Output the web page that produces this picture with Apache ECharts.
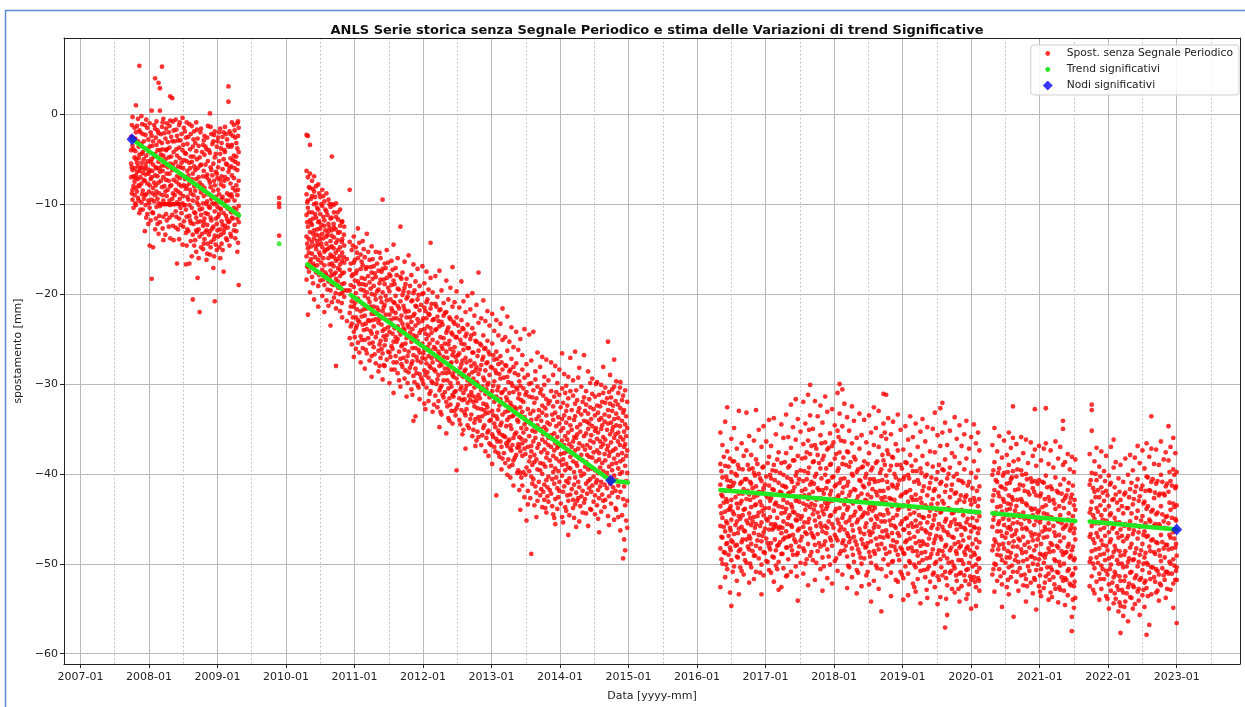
<!DOCTYPE html>
<html>
<head>
<meta charset="utf-8">
<script src="https://cdn.jsdelivr.net/npm/echarts@6/dist/echarts.min.js"></script>
<style>
  html, body { margin: 0; padding: 0; background: #fff; }
  #chart { width: 1245px; height: 707px; }
</style>
</head>
<body>
<div id="chart"></div>
<script>
// ---- Texts and ticks ----
const chartTitle = 'ANLS Serie storica senza Segnale Periodico e stima delle Variazioni di trend Significative';
const seriesNames = ['Spost. senza Segnale Periodico', 'Trend significativi', 'Nodi significativi'];
const xAxisName = 'Data [yyyy-mm]';
const yAxisName = 'spostamento [mm]';
const yearTicks = [2007, 2008, 2009, 2010, 2011, 2012, 2013, 2014, 2015, 2016, 2017, 2018, 2019, 2020, 2021, 2022, 2023];
const midYearTicks = [2007.5, 2008.5, 2009.5, 2010.5, 2011.5, 2012.5, 2013.5, 2014.5, 2015.5, 2016.5, 2017.5, 2018.5, 2019.5, 2020.5, 2021.5, 2022.5, 2023.5];
const yTicks = [0, -10, -20, -30, -40, -50, -60];
const xRange = [2006.76, 2023.924];   // decimal years
const yRange = [-61.15, 8.49];        // mm

// ---- Displacement measurements, grouped by acquisition date: [decimal year, [mm, ...]] ----
const displacement2007_2009 = [
  [2007.74, [-2.5, -4.0, -5.5, -7.0]],
  [2007.75, [-1.2, -5.9, -8.8]],
  [2007.76, [-0.3, -3.5, -6.2, -8.4, -9.5]],
  [2007.775, [-3.9, -6.9, -8.0, -10.4]],
  [2007.79, [-1.5, -4.8, -6.0, -7.5, -9.0]],
  [2007.80, [-2.7, -4.1, -7.1, -9.9]],
  [2007.81, [1.0, -2.0, -5.0, -6.8, -8.2, -10.1]],
  [2007.825, [-1.3, -5.4, -6.4, -8.6]],
  [2007.84, [-0.5, -3.0, -5.8, -7.2, -9.3]],
  [2007.85, [-3.6, -4.9, -7.9, -9.6]],
  [2007.86, [5.4, -1.8, -4.5, -6.3, -8.0, -11.0]],
  [2007.875, [-2.0, -6.0, -7.0, -10.6]],
  [2007.89, [-0.2, -3.3, -5.4, -7.7, -9.8]],
  [2007.90, [-1.1, -4.4, -5.9, -8.9]],
  [2007.91, [-2.2, -4.2, -6.5, -8.5, -10.6]],
  [2007.925, [-3.0, -5.0, -7.3, -9.4]],
  [2007.94, [-1.2, -3.8, -6.1, -7.4, -9.0, -13.0]],
  [2007.95, [-2.3, -5.5, -6.7, -10.1]],
  [2007.96, [-0.6, -4.6, -5.9, -8.9, -11.5]],
  [2007.975, [-1.5, -3.9, -7.7, -11.1]],
  [2007.99, [-2.8, -5.2, -6.6, -9.6, -12.2]],
  [2008.00, [-4.2, -6.4, -8.6, -9.9]],
  [2008.01, [-1.0, -3.6, -6.2, -7.9, -10.4, -14.6]],
  [2008.025, [-2.0, -5.3, -7.2, -11.8]],
  [2008.04, [0.4, -2.4, -5.0, -7.0, -9.5, -18.3]],
  [2008.05, [-3.5, -6.3, -8.8, -10.9]],
  [2008.06, [-3.0, -5.6, -8.2, -11.0, -14.8]],
  [2008.075, [-1.2, -4.7, -7.6, -9.7]],
  [2008.09, [4.0, -1.6, -4.4, -6.8, -9.0, -12.8]],
  [2008.10, [-2.6, -5.9, -7.9, -11.6]],
  [2008.11, [-0.8, -3.4, -6.0, -8.6, -10.3]],
  [2008.125, [-1.8, -4.0, -6.9, -9.4, -12.2]],
  [2008.14, [3.5, -2.1, -5.3, -7.6, -9.9, -13.3]],
  [2008.15, [-3.0, -6.0, -8.8, -11.3]],
  [2008.16, [2.9, 0.4, -4.0, -6.4, -10.2, -12.0]],
  [2008.175, [-2.2, -4.5, -7.4, -10.0]],
  [2008.19, [5.3, -1.4, -3.2, -5.7, -8.1, -10.0]],
  [2008.20, [-0.9, -3.9, -6.3, -9.0, -12.7]],
  [2008.21, [-0.5, -4.6, -7.0, -9.6, -11.4, -14.0]],
  [2008.225, [-2.1, -5.7, -8.0, -10.0]],
  [2008.24, [-2.7, -5.0, -8.6, -10.0, -13.4]],
  [2008.25, [-1.6, -4.0, -7.3, -11.1]],
  [2008.26, [-1.0, -3.9, -6.6, -9.1, -11.8]],
  [2008.275, [-3.1, -5.9, -8.4, -10.0]],
  [2008.29, [-2.0, -4.8, -7.4, -10.0, -12.5]],
  [2008.30, [-1.3, -3.7, -6.6, -9.6, -11.5]],
  [2008.31, [2.0, -0.7, -5.5, -8.0, -10.1, -13.8]],
  [2008.325, [-2.5, -4.7, -7.9, -10.0]],
  [2008.34, [1.8, -3.0, -6.2, -9.4, -11.2]],
  [2008.35, [-0.8, -5.6, -8.8, -12.4]],
  [2008.36, [-1.8, -4.2, -7.3, -10.0, -14.0]],
  [2008.375, [-3.0, -6.1, -9.0, -10.0]],
  [2008.39, [-0.6, -5.3, -8.4, -10.8, -12.6]],
  [2008.40, [-1.7, -3.9, -7.5, -11.4]],
  [2008.41, [-2.4, -4.6, -6.9, -9.8, -16.6]],
  [2008.425, [-2.9, -5.8, -8.6, -10.0, -12.8]],
  [2008.44, [-1.2, -3.7, -7.8, -10.0, -11.6, -13.9]],
  [2008.45, [-0.9, -4.9, -7.1, -9.4]],
  [2008.46, [-2.9, -5.9, -8.8, -10.4, -12.3]],
  [2008.475, [-2.2, -5.4, -8.0, -11.0]],
  [2008.49, [-0.4, -4.0, -6.8, -9.9, -14.5]],
  [2008.50, [-3.4, -6.0, -9.1, -12.5]],
  [2008.51, [-1.5, -5.1, -7.9, -10.1, -11.9]],
  [2008.525, [-1.9, -4.3, -7.2, -10.1]],
  [2008.54, [-2.6, -4.4, -8.3, -10.6, -13.2, -16.7]],
  [2008.55, [-0.9, -5.2, -8.0, -11.4, -14.6]],
  [2008.56, [-3.3, -6.3, -9.2, -12.8]],
  [2008.575, [-2.5, -6.8, -9.5, -13.0]],
  [2008.59, [-1.1, -5.4, -7.7, -10.1, -11.3, -16.6]],
  [2008.60, [-3.9, -6.0, -8.4, -11.8]],
  [2008.61, [-2.2, -4.7, -8.8, -12.1, -14.1]],
  [2008.625, [-1.3, -5.3, -7.2, -10.4, -15.8]],
  [2008.64, [-3.6, -6.6, -9.6, -13.4, -20.6]],
  [2008.65, [-2.8, -4.7, -9.0, -12.2]],
  [2008.66, [-1.9, -5.8, -8.0, -10.9, -14.6]],
  [2008.675, [-3.2, -6.2, -8.5, -11.0, -14.0]],
  [2008.69, [-0.9, -4.1, -7.2, -11.5, -12.9, -15.3]],
  [2008.70, [-1.7, -5.0, -9.8, -13.1]],
  [2008.71, [-2.7, -6.0, -9.3, -12.0, -18.2]],
  [2008.725, [-3.5, -7.0, -10.1, -12.8, -16.0]],
  [2008.74, [-4.8, -7.6, -10.6, -13.6, -22.0]],
  [2008.75, [-2.0, -5.7, -8.3, -11.9]],
  [2008.76, [-1.6, -5.6, -8.7, -11.2, -14.8]],
  [2008.775, [-4.2, -7.9, -10.5, -13.3]],
  [2008.79, [-3.4, -6.9, -9.9, -12.4, -15.0]],
  [2008.80, [-2.9, -6.3, -9.1, -12.0, -14.4]],
  [2008.81, [-2.4, -4.5, -8.2, -11.6, -13.9]],
  [2008.825, [-3.6, -5.6, -8.6, -11.0, -13.1]],
  [2008.84, [-3.9, -7.0, -10.0, -12.9, -16.2]],
  [2008.85, [-2.6, -6.7, -9.7, -12.3, -15.5]],
  [2008.86, [-1.3, -5.2, -8.9, -11.1, -14.4]],
  [2008.875, [-4.0, -7.3, -10.3, -13.4]],
  [2008.89, [0.1, -4.3, -7.6, -10.4, -13.0, -15.6]],
  [2008.90, [-1.4, -5.9, -8.1, -11.5, -14.8]],
  [2008.91, [-2.2, -6.2, -9.4, -11.8, -14.2]],
  [2008.925, [-3.3, -6.8, -9.9, -12.7]],
  [2008.94, [-3.0, -5.5, -8.5, -12.5, -17.1]],
  [2008.95, [-2.3, -7.4, -10.0, -13.9, -15.8]],
  [2008.96, [-1.9, -4.8, -7.9, -10.8, -13.5, -20.8]],
  [2008.975, [-4.4, -6.4, -9.2, -11.6, -14.5]],
  [2008.99, [-3.6, -6.6, -9.8, -12.2, -15.1]],
  [2009.00, [-3.0, -7.1, -10.3, -12.9]],
  [2009.01, [-2.6, -5.9, -8.4, -11.4, -13.6]],
  [2009.025, [-2.0, -5.2, -8.9, -11.1, -14.8]],
  [2009.04, [-1.6, -4.4, -7.3, -10.5, -12.8, -16.0]],
  [2009.05, [-3.8, -7.8, -10.6, -13.4]],
  [2009.06, [-3.2, -6.9, -9.4, -11.9, -14.4]],
  [2009.075, [-2.5, -6.1, -9.2, -12.3, -15.1]],
  [2009.09, [-2.0, -5.0, -8.0, -11.0, -13.2, -17.5]],
  [2009.10, [-4.0, -7.4, -10.0, -12.8]],
  [2009.11, [-1.4, -4.2, -7.0, -10.2, -12.4]],
  [2009.125, [-2.2, -5.5, -9.6, -11.3, -13.8]],
  [2009.14, [-2.8, -5.6, -8.8, -11.7, -14.0]],
  [2009.15, [-3.4, -7.2, -10.5, -12.6]],
  [2009.16, [3.1, 1.4, -3.6, -6.4, -9.6, -12.0]],
  [2009.175, [-1.9, -6.0, -9.0, -11.9, -14.6]],
  [2009.19, [-2.2, -4.9, -7.7, -10.7, -13.3]],
  [2009.20, [-3.6, -5.8, -8.9, -10.9, -13.6]],
  [2009.21, [-0.9, -3.4, -6.8, -9.2, -11.5]],
  [2009.225, [-2.4, -5.1, -8.2, -11.6]],
  [2009.24, [-1.2, -4.6, -7.1, -10.4, -12.9]],
  [2009.25, [-1.8, -6.0, -9.6, -12.3]],
  [2009.26, [-2.6, -5.3, -8.5, -11.0, -13.8]],
  [2009.275, [-3.2, -4.7, -7.9, -10.6, -13.0]],
  [2009.29, [-1.0, -3.8, -6.2, -9.0, -11.6, -15.3]],
  [2009.30, [-0.8, -2.4, -5.5, -8.4, -11.1, -14.3]],
  [2009.31, [-1.5, -4.2, -7.4, -10.2, -12.0, -19.0]]
];

const displacement2009_2010 = [
  [2009.90, [-9.3, -9.9, -10.3, -13.5]]
];

const displacement2010_2014 = [
  [2010.30, [-2.3, -6.3, -8.9, -11.2, -13.6, -15.8, -18.4]],
  [2010.31, [-9.8, -12.0, -14.4, -16.9]],
  [2010.32, [-2.4, -7.0, -9.6, -10.4, -12.5, -14.9, -17.0, -22.3]],
  [2010.335, [-8.1, -10.9, -13.9, -15.4, -17.5]],
  [2010.35, [-3.4, -6.6, -8.2, -11.8, -13.1, -16.4, -19.8]],
  [2010.365, [-9.4, -12.1, -14.7, -16.1]],
  [2010.38, [-7.4, -9.1, -10.9, -12.3, -14.2, -15.5, -18.1]],
  [2010.395, [-8.3, -11.6, -13.3, -16.6, -18.8]],
  [2010.41, [-6.9, -8.6, -10.0, -12.9, -13.8, -16.9, -20.6]],
  [2010.425, [-9.2, -11.1, -14.6, -15.9]],
  [2010.44, [-8.0, -9.9, -11.5, -13.4, -15.0, -17.6]],
  [2010.455, [-10.4, -12.8, -14.1, -16.8]],
  [2010.47, [-7.8, -10.6, -12.0, -14.5, -16.2, -19.1, -21.4]],
  [2010.485, [-8.8, -11.9, -13.5, -15.4, -17.9]],
  [2010.50, [-9.2, -11.1, -12.7, -13.9, -15.7, -18.5]],
  [2010.515, [-10.0, -12.3, -14.4, -16.5]],
  [2010.53, [-8.4, -10.2, -13.3, -14.8, -17.3, -20.2]],
  [2010.545, [-9.1, -11.4, -13.8, -16.0, -18.4]],
  [2010.56, [-9.7, -11.8, -12.4, -15.3, -16.8, -19.0, -22.0]],
  [2010.575, [-10.6, -12.9, -15.1, -17.6]],
  [2010.59, [-8.8, -10.8, -13.6, -14.4, -17.9, -20.7]],
  [2010.605, [-11.2, -13.4, -15.0, -19.5]],
  [2010.62, [-9.5, -12.2, -13.0, -16.0, -18.6, -21.3]],
  [2010.635, [-10.0, -12.6, -14.8, -16.7, -18.2]],
  [2010.65, [-10.3, -11.6, -14.1, -15.6, -17.4, -19.6, -23.5]],
  [2010.665, [-11.5, -13.5, -15.8, -17.9]],
  [2010.67, [-4.7, -10.0, -12.9, -14.7, -16.6, -18.9, -20.9]],
  [2010.695, [-10.1, -12.2, -14.9, -16.9, -19.0]],
  [2010.70, [-10.9, -12.6, -13.7, -15.9, -17.8, -20.4]],
  [2010.725, [-12.8, -15.4, -17.6, -19.9]],
  [2010.73, [-9.9, -11.4, -14.3, -16.3, -18.3, -21.6, -28.0]],
  [2010.755, [-10.9, -14.0, -16.1, -18.6]],
  [2010.76, [-11.7, -13.2, -15.1, -17.1, -19.3, -20.8]],
  [2010.785, [-13.1, -15.8, -17.3, -20.0]],
  [2010.79, [-10.6, -12.4, -14.8, -16.7, -18.0, -21.9]],
  [2010.815, [-12.0, -14.2, -16.3, -18.9, -21.0]],
  [2010.82, [-11.9, -13.9, -15.4, -17.7, -19.9, -22.6]],
  [2010.845, [-13.4, -15.9, -17.6, -19.6]],
  [2010.85, [-12.5, -14.6, -16.5, -18.8, -20.3]],
  [2010.89, [-16.1, -19.6, -23.0]],
  [2010.93, [-8.4, -14.2, -17.3, -19.6, -22.1, -24.9]],
  [2010.945, [-16.6, -19.0, -21.4, -23.6]],
  [2010.96, [-15.1, -18.0, -20.8, -23.3, -25.6]],
  [2010.975, [-14.6, -17.8, -20.3, -22.6]],
  [2010.99, [-13.6, -16.5, -19.2, -21.4, -24.2, -27.0]],
  [2011.005, [-16.2, -18.5, -21.0, -24.8]],
  [2011.02, [-14.8, -17.7, -19.9, -22.6, -23.8, -26.1]],
  [2011.035, [-15.4, -17.4, -21.7, -23.5]],
  [2011.05, [-12.7, -16.0, -18.6, -20.5, -22.9, -25.4]],
  [2011.07, [-14.3, -18.9, -20.8, -23.1, -26.5]],
  [2011.09, [-15.6, -17.2, -19.5, -21.9, -24.7, -27.6]],
  [2011.105, [-16.4, -18.2, -22.5, -25.1]],
  [2011.12, [-14.1, -16.8, -18.9, -21.1, -23.4, -26.0]],
  [2011.135, [-15.0, -19.6, -21.7, -24.0]],
  [2011.15, [-15.9, -18.3, -20.2, -22.4, -25.1, -28.3]],
  [2011.165, [-17.2, -19.0, -23.3, -26.2]],
  [2011.18, [-13.3, -17.0, -19.8, -21.6, -23.9, -26.6]],
  [2011.20, [-15.3, -18.0, -20.5, -22.9, -24.9]],
  [2011.22, [-16.2, -18.7, -20.9, -23.0, -25.5, -27.4]],
  [2011.235, [-17.0, -19.4, -21.4, -24.1]],
  [2011.25, [-14.7, -17.6, -20.0, -22.2, -24.4, -26.9, -29.2]],
  [2011.265, [-16.1, -18.3, -22.9, -25.4]],
  [2011.28, [-16.9, -19.1, -21.4, -23.6, -25.9]],
  [2011.295, [-17.7, -20.1, -22.2, -26.7]],
  [2011.31, [-15.3, -18.1, -20.6, -22.8, -24.8, -27.7]],
  [2011.33, [-16.6, -19.7, -21.5, -24.3]],
  [2011.35, [-17.4, -19.5, -21.8, -23.2, -26.3, -28.6]],
  [2011.365, [-15.4, -18.8, -22.8, -25.6, -28.0]],
  [2011.38, [-16.0, -18.4, -20.4, -22.5, -25.2, -27.1]],
  [2011.395, [-17.5, -20.9, -23.4, -26.1]],
  [2011.41, [-9.5, -17.2, -19.8, -21.9, -24.1, -26.6, -29.5]],
  [2011.425, [-18.4, -21.5, -24.7, -27.9]],
  [2011.44, [-16.6, -18.9, -21.2, -23.9, -25.7, -28.0]],
  [2011.455, [-17.1, -20.2, -22.3, -25.1]],
  [2011.47, [-15.1, -18.2, -20.7, -22.9, -24.6, -27.3]],
  [2011.49, [-16.5, -19.3, -23.7, -26.4]],
  [2011.51, [-17.8, -19.7, -22.3, -24.2, -26.5, -29.9]],
  [2011.525, [-18.0, -20.6, -22.9, -27.0]],
  [2011.54, [-16.3, -19.0, -21.6, -23.4, -25.8, -28.4]],
  [2011.555, [-17.3, -21.9, -24.4, -26.1]],
  [2011.57, [-14.5, -18.5, -20.9, -22.7, -25.3, -27.6, -31.0]],
  [2011.585, [-18.9, -21.0, -23.8, -28.4]],
  [2011.60, [-17.1, -20.2, -22.1, -24.8, -26.9]],
  [2011.615, [-17.9, -22.7, -25.3, -27.6]],
  [2011.63, [-16.0, -19.4, -21.3, -23.6, -25.0, -28.8]],
  [2011.65, [-19.5, -21.6, -24.1, -26.4, -29.6]],
  [2011.67, [-12.5, -18.1, -20.8, -22.9, -24.5, -27.2, -30.3]],
  [2011.685, [-18.3, -22.4, -25.8, -27.8]],
  [2011.70, [-17.6, -20.1, -23.3, -25.6, -28.1]],
  [2011.715, [-19.7, -21.3, -23.8, -27.1]],
  [2011.73, [-16.4, -19.3, -21.7, -24.0, -26.2, -29.4]],
  [2011.745, [-18.9, -22.0, -25.5, -28.5]],
  [2011.76, [-18.3, -20.5, -22.6, -24.9, -27.5, -31.4]],
  [2011.775, [-20.3, -23.4, -26.9, -29.9]],
  [2011.79, [-15.7, -19.8, -21.9, -23.7, -26.4, -28.7]],
  [2011.81, [-19.1, -22.6, -24.3, -28.2]],
  [2011.83, [-17.9, -20.8, -23.1, -25.3, -27.8, -30.6]],
  [2011.845, [-20.7, -23.9, -26.0, -27.5, -31.2]],
  [2011.86, [-16.7, -19.9, -22.4, -24.6, -26.8, -29.1, -34.1]],
  [2011.875, [-19.6, -22.2, -25.0, -29.8]],
  [2011.89, [-18.6, -21.3, -23.5, -26.0, -28.3, -33.6]],
  [2011.905, [-21.4, -24.7, -27.0, -28.8]],
  [2011.92, [-17.2, -20.6, -22.8, -25.2, -27.4, -30.1]],
  [2011.935, [-20.1, -23.2, -26.2, -30.4]],
  [2011.95, [-19.1, -21.8, -24.3, -26.5, -28.9, -31.7]],
  [2011.97, [-21.2, -24.0, -27.6, -29.3]],
  [2011.99, [-16.9, -20.0, -23.0, -25.5, -27.1, -29.6]],
  [2012.005, [-19.9, -22.7, -26.6, -30.0]],
  [2012.02, [-18.8, -21.5, -23.9, -26.2, -28.5, -32.2]],
  [2012.035, [-21.9, -24.4, -27.2, -29.0, -32.8]],
  [2012.05, [-17.5, -20.9, -22.7, -25.0, -27.7, -30.4]],
  [2012.065, [-20.6, -23.6, -25.9, -28.7]],
  [2012.08, [-19.5, -22.2, -24.6, -26.9, -29.3, -31.9]],
  [2012.095, [-22.3, -25.5, -28.0, -31.1]],
  [2012.11, [-14.3, -18.2, -21.6, -23.8, -26.3, -28.2, -30.8]],
  [2012.125, [-21.1, -24.3, -27.1, -29.7]],
  [2012.14, [-19.8, -22.9, -25.1, -27.6, -29.9, -33.1]],
  [2012.16, [-22.8, -25.9, -28.4, -32.3]],
  [2012.18, [-18.0, -21.1, -24.0, -26.1, -28.6, -31.3]],
  [2012.195, [-21.4, -23.9, -27.0, -30.0]],
  [2012.21, [-20.3, -22.5, -25.4, -27.3, -29.5, -32.6]],
  [2012.225, [-23.0, -26.4, -29.0, -31.9]],
  [2012.24, [-17.4, -21.8, -23.6, -26.7, -28.0, -30.7, -34.8]],
  [2012.255, [-21.7, -24.8, -27.5, -30.4, -33.1]],
  [2012.27, [-19.6, -23.1, -25.8, -27.9, -30.2, -33.4]],
  [2012.285, [-23.4, -26.1, -28.8, -31.2]],
  [2012.30, [-21.0, -22.4, -24.9, -27.0, -29.6, -31.5]],
  [2012.32, [-22.1, -25.5, -28.3, -30.9]],
  [2012.34, [-18.5, -22.0, -24.3, -26.4, -28.8, -32.0, -35.5]],
  [2012.355, [-24.0, -27.1, -29.6, -32.5]],
  [2012.37, [-20.6, -23.7, -25.6, -28.3, -30.5, -33.8]],
  [2012.385, [-22.6, -25.2, -28.7, -31.6, -34.1]],
  [2012.40, [-19.3, -22.8, -26.1, -27.7, -29.9, -32.3]],
  [2012.415, [-24.3, -27.6, -30.3, -33.0]],
  [2012.43, [-17.0, -21.4, -24.5, -26.8, -29.0, -31.2, -34.4]],
  [2012.445, [-23.1, -26.4, -29.2, -31.4]],
  [2012.46, [-20.9, -23.3, -25.9, -28.6, -30.9, -33.0]],
  [2012.475, [-24.8, -27.0, -30.8, -33.5]],
  [2012.49, [-19.7, -22.6, -24.8, -27.5, -29.4, -32.7, -39.6]],
  [2012.51, [-23.5, -26.8, -29.9, -32.3]],
  [2012.53, [-21.5, -24.2, -26.6, -28.9, -31.6, -34.0]],
  [2012.545, [-25.1, -28.2, -30.6, -34.5]],
  [2012.56, [-18.6, -22.9, -25.5, -27.8, -30.3, -32.9]],
  [2012.575, [-23.8, -27.4, -29.1, -31.8, -35.6]],
  [2012.59, [-20.8, -23.9, -26.2, -29.2, -31.0, -35.1]],
  [2012.605, [-25.6, -28.6, -31.7, -33.2]],
  [2012.62, [-22.0, -24.7, -27.1, -28.4, -30.6, -33.5, -37.2]],
  [2012.635, [-24.4, -27.6, -30.2, -32.8]],
  [2012.65, [-20.2, -23.4, -26.0, -29.6, -32.1, -34.6]],
  [2012.67, [-26.0, -29.0, -31.3, -34.9]],
  [2012.69, [-21.7, -25.0, -27.4, -30.0, -31.8, -33.9]],
  [2012.705, [-24.6, -28.0, -30.9, -33.4]],
  [2012.72, [-19.9, -23.8, -26.5, -28.7, -31.3, -35.8]],
  [2012.735, [-26.5, -29.4, -32.0, -35.1]],
  [2012.75, [-22.4, -24.4, -27.7, -30.4, -32.5, -34.3]],
  [2012.765, [-25.2, -28.5, -31.5, -33.9, -36.9]],
  [2012.78, [-21.2, -25.3, -28.1, -29.8, -31.9, -36.3]],
  [2012.795, [-26.9, -30.0, -32.7, -35.3]],
  [2012.81, [-17.6, -23.2, -26.3, -28.9, -31.2, -33.7, -35.9]],
  [2012.83, [-25.5, -28.4, -31.6, -34.1]],
  [2012.85, [-22.7, -25.7, -27.9, -30.7, -32.8, -36.8]],
  [2012.865, [-27.3, -30.3, -33.6, -35.7]],
  [2012.88, [-20.7, -24.6, -27.0, -29.3, -32.2, -34.9]],
  [2012.895, [-26.1, -29.6, -32.9, -34.6]],
  [2012.91, [-23.0, -26.0, -28.5, -31.1, -33.3, -37.5]],
  [2012.925, [-27.7, -30.6, -32.3, -36.0]],
  [2012.94, [-21.9, -25.2, -27.6, -30.1, -32.6, -35.4]],
  [2012.955, [-26.4, -29.9, -33.2, -35.2, -38.0]],
  [2012.97, [-23.5, -26.7, -29.0, -31.5, -34.1, -36.6]],
  [2012.99, [-28.1, -31.2, -34.0, -36.8]],
  [2013.01, [-22.2, -25.5, -28.2, -30.8, -33.0, -35.6, -38.9]],
  [2013.025, [-26.8, -30.2, -33.5, -35.9]],
  [2013.04, [-24.1, -27.3, -29.7, -32.0, -34.4, -37.0]],
  [2013.055, [-28.5, -31.6, -34.8, -37.5]],
  [2013.07, [-22.9, -26.4, -28.8, -31.4, -33.6, -36.1, -42.4]],
  [2013.085, [-27.2, -30.7, -33.9, -36.4]],
  [2013.10, [-24.6, -27.8, -30.3, -32.9, -35.2, -37.7]],
  [2013.115, [-28.9, -32.4, -35.5, -38.1]],
  [2013.13, [-23.3, -26.9, -29.4, -31.7, -34.6, -36.4]],
  [2013.145, [-27.6, -31.0, -34.3, -37.0, -39.5]],
  [2013.16, [-21.6, -25.1, -28.4, -30.9, -33.4, -35.7, -38.3]],
  [2013.18, [-29.3, -32.2, -35.8, -37.7]],
  [2013.20, [-24.8, -27.9, -30.6, -33.1, -35.9, -38.8]],
  [2013.215, [-28.0, -31.5, -34.7, -36.6]],
  [2013.23, [-22.5, -26.3, -29.2, -31.8, -34.0, -36.9, -40.1]],
  [2013.245, [-29.8, -33.0, -36.4, -38.4]],
  [2013.26, [-25.3, -28.6, -31.0, -33.7, -36.2, -39.2]],
  [2013.275, [-28.4, -32.1, -34.6, -37.2, -40.4]],
  [2013.29, [-23.7, -27.2, -29.9, -32.4, -35.0, -37.4]],
  [2013.305, [-30.2, -33.6, -36.8, -39.0]],
  [2013.32, [-25.9, -28.1, -30.9, -33.5, -36.0, -38.5, -41.3]],
  [2013.34, [-28.8, -32.6, -35.6, -38.2]],
  [2013.36, [-24.2, -27.7, -30.4, -32.8, -35.4, -37.9]],
  [2013.375, [-30.6, -34.0, -37.1, -39.9]],
  [2013.39, [-26.2, -29.0, -31.6, -34.2, -36.7, -39.6]],
  [2013.405, [-29.7, -31.1, -35.9, -37.0, -41.8]],
  [2013.42, [-25.0, -30.2, -32.6, -33.4, -37.5, -39.9, -44.0]],
  [2013.435, [-31.8, -34.9, -36.1, -40.4]],
  [2013.45, [-26.8, -28.4, -33.1, -36.6, -38.0, -41.3]],
  [2013.465, [-30.5, -32.0, -35.4, -39.8]],
  [2013.48, [-23.9, -29.3, -33.7, -34.5, -37.2, -42.6]],
  [2013.495, [-31.2, -36.3, -37.8, -40.1]],
  [2013.51, [-27.8, -30.9, -34.2, -35.0, -39.3, -45.2]],
  [2013.53, [-29.0, -32.8, -37.0, -41.9, -43.4]],
  [2013.55, [-24.5, -30.0, -31.4, -35.8, -38.6, -39.7]],
  [2013.565, [-33.3, -34.4, -38.1, -42.7]],
  [2013.58, [-27.4, -29.9, -34.0, -36.9, -37.5, -40.3, -48.9]],
  [2013.595, [-31.5, -35.2, -39.0, -41.1]],
  [2013.61, [-24.2, -30.7, -33.0, -36.4, -40.6]],
  [2013.625, [-32.1, -34.7, -37.9, -38.7, -43.5]],
  [2013.64, [-28.6, -29.5, -35.3, -36.0, -41.4]],
  [2013.655, [-31.6, -33.9, -38.4, -42.1, -44.8]],
  [2013.67, [-26.5, -30.3, -34.6, -37.1, -39.5, -43.0]],
  [2013.69, [-32.9, -33.6, -36.7, -40.9]],
  [2013.71, [-28.1, -31.0, -35.0, -38.8, -39.6, -42.4]],
  [2013.725, [-30.6, -34.1, -37.6, -41.7]],
  [2013.74, [-27.0, -32.4, -33.2, -36.2, -40.0, -43.7]],
  [2013.755, [-31.3, -35.6, -38.9, -42.0]],
  [2013.77, [-29.2, -30.1, -34.8, -37.3, -41.2, -42.9]],
  [2013.785, [-32.7, -36.5, -39.2, -43.8]],
  [2013.80, [-27.3, -31.7, -33.5, -35.1, -38.2, -40.7, -44.3]],
  [2013.815, [-34.3, -37.7, -41.5, -42.5]],
  [2013.83, [-29.6, -32.2, -36.0, -36.8, -40.3, -43.1]],
  [2013.85, [-31.9, -34.5, -38.5, -41.8]],
  [2013.87, [-27.6, -30.8, -35.7, -37.0, -39.1, -42.2]],
  [2013.885, [-33.4, -36.1, -40.6, -43.6]],
  [2013.90, [-29.0, -32.5, -34.0, -38.0, -39.8, -44.5]],
  [2013.915, [-31.4, -35.5, -37.4, -41.1, -44.9]],
  [2013.93, [-28.0, -33.2, -36.6, -39.4, -42.8, -45.6]],
  [2013.945, [-30.9, -34.7, -38.3, -40.4]],
  [2013.96, [-29.9, -32.0, -35.9, -37.1, -41.6, -43.9]],
  [2013.975, [-33.7, -36.9, -39.7, -42.6]],
  [2013.99, [-28.4, -31.2, -34.4, -38.6, -40.9, -41.9]],
  [2014.01, [-32.6, -35.2, -37.8, -43.3]],
  [2014.03, [-26.6, -30.5, -33.9, -36.3, -39.0, -40.2, -44.8]],
  [2014.045, [-32.1, -34.9, -38.4, -42.0, -45.4]],
  [2014.06, [-28.9, -33.5, -36.8, -37.7, -41.4]],
  [2014.075, [-31.0, -35.8, -39.6, -43.7]],
  [2014.09, [-30.2, -33.0, -34.3, -38.9, -40.8, -44.1]],
  [2014.105, [-32.4, -36.2, -37.5, -42.4]],
  [2014.12, [-29.2, -31.6, -35.4, -39.3, -41.0, -43.0, -46.8]],
  [2014.135, [-33.8, -36.7, -40.5, -44.6]],
  [2014.15, [-27.1, -30.8, -34.6, -38.1, -39.4, -42.3]],
  [2014.17, [-32.9, -35.1, -37.0, -41.7]],
  [2014.19, [-29.6, -31.3, -36.4, -38.6, -42.9, -43.8]],
  [2014.205, [-34.0, -35.9, -39.8, -41.2, -44.9]],
  [2014.22, [-26.4, -32.2, -33.6, -37.4, -40.4, -43.4]],
  [2014.235, [-30.7, -36.0, -38.8, -42.1, -45.9]],
  [2014.25, [-31.8, -34.8, -35.6, -39.1, -43.0]],
  [2014.265, [-29.3, -33.1, -37.2, -40.9, -42.7]],
  [2014.28, [-28.2, -32.7, -36.6, -38.3, -41.5, -45.3]],
  [2014.295, [-34.5, -35.3, -39.7, -43.6]],
  [2014.31, [-30.3, -33.4, -37.9, -40.2, -42.5]],
  [2014.33, [-32.0, -36.9, -38.5, -41.9, -44.3]],
  [2014.35, [-26.8, -31.5, -34.1, -35.8, -40.0, -43.2]],
  [2014.365, [-33.0, -37.3, -39.2, -42.8]],
  [2014.38, [-30.8, -32.3, -35.5, -38.7, -41.1, -44.4]],
  [2014.395, [-34.2, -36.8, -37.9, -42.2]],
  [2014.41, [-28.6, -33.3, -35.0, -39.5, -40.8, -45.8]],
  [2014.425, [-31.7, -34.4, -38.1, -41.6]],
  [2014.44, [-29.9, -32.6, -36.3, -37.1, -40.6, -43.9]],
  [2014.455, [-33.9, -35.7, -39.4, -42.0, -44.0]],
  [2014.47, [-29.4, -31.1, -34.7, -38.2, -41.3]],
  [2014.49, [-32.8, -36.5, -37.6, -40.3, -43.1]],
  [2014.51, [-31.4, -33.5, -35.2, -39.6, -42.4, -44.5]],
  [2014.525, [-30.0, -34.9, -38.6, -41.0]],
  [2014.54, [-29.8, -32.4, -36.1, -37.4, -40.7, -43.5]],
  [2014.555, [-33.2, -35.4, -39.9, -41.8, -45.0]],
  [2014.57, [-31.2, -34.0, -37.7, -38.4, -42.7, -46.5]],
  [2014.585, [-32.5, -36.4, -39.3, -41.4]],
  [2014.60, [-30.1, -33.8, -35.0, -37.0, -40.9, -44.2]],
  [2014.615, [-32.0, -34.6, -38.8, -42.3]],
  [2014.63, [-28.1, -31.0, -35.9, -36.7, -39.7, -43.0]],
  [2014.65, [-33.4, -34.2, -37.8, -41.2, -43.7]],
  [2014.66, [-30.4, -32.1, -36.2, -38.5, -42.9]],
  [2014.685, [-31.6, -35.1, -37.3, -39.9, -41.6]],
  [2014.70, [-25.3, -32.9, -34.4, -36.9, -40.4, -44.7]],
  [2014.715, [-30.9, -33.6, -38.0, -39.2, -42.5, -45.7]],
  [2014.73, [-29.0, -32.2, -35.6, -37.6, -41.1]],
  [2014.745, [-31.5, -34.3, -36.5, -40.6, -43.3]],
  [2014.76, [-30.6, -33.0, -35.2, -38.9, -39.6, -42.1]],
  [2014.775, [-32.4, -34.8, -37.4, -41.5]],
  [2014.79, [-27.3, -30.3, -33.9, -36.0, -38.3, -40.2, -45.1]],
  [2014.81, [-31.9, -35.6, -37.2, -41.9, -43.8]],
  [2014.82, [-29.7, -33.3, -34.6, -38.8, -40.7, -44.0]],
  [2014.845, [-32.3, -36.4, -37.9, -42.6]],
  [2014.85, [-31.0, -33.8, -35.4, -39.4, -41.3, -44.8]],
  [2014.875, [-30.4, -34.7, -36.8, -40.0]],
  [2014.88, [-29.8, -32.7, -35.9, -38.6, -42.0, -46.3]],
  [2014.905, [-31.8, -34.1, -37.7, -39.8, -44.6]],
  [2014.92, [-31.3, -33.2, -36.2, -38.4, -42.8, -49.4]],
  [2014.935, [-32.9, -35.3, -37.0, -41.4, -47.3]],
  [2014.95, [-30.7, -34.5, -36.7, -39.1, -43.5, -48.5]],
  [2014.965, [-33.6, -35.8, -38.0, -40.8, -45.2]],
  [2014.98, [-32.0, -34.9, -37.4, -39.9, -43.0, -46.0]]
];

const displacement2016_2020 = [
  [2016.34, [-35.4, -38.9, -41.2, -43.6, -45.8, -48.3, -52.6]],
  [2016.355, [-39.7, -42.3, -44.4, -47.0, -49.5]],
  [2016.37, [-36.8, -40.4, -42.5, -44.9, -47.1, -50.0]],
  [2016.39, [-38.1, -43.2, -45.9, -48.7]],
  [2016.41, [-34.2, -39.1, -41.9, -44.2, -46.4, -48.8, -51.5]],
  [2016.425, [-40.3, -42.8, -45.3, -47.8, -50.1]],
  [2016.44, [-32.6, -37.5, -40.7, -43.1, -45.5, -47.7, -50.6]],
  [2016.46, [-39.2, -41.4, -44.0, -46.9, -49.0]],
  [2016.48, [-38.3, -41.5, -43.9, -46.0, -48.2, -53.2]],
  [2016.49, [-40.8, -43.6, -46.3, -48.5]],
  [2016.50, [-36.1, -39.8, -42.9, -45.1, -47.4, -49.6, -54.7]],
  [2016.52, [-38.6, -41.3, -44.2, -47.6, -50.9]],
  [2016.54, [-34.9, -38.6, -41.0, -44.5, -46.7, -50.3]],
  [2016.56, [-40.0, -42.6, -45.7, -48.0]],
  [2016.58, [-37.2, -40.2, -43.3, -45.3, -47.9, -49.2, -51.9]],
  [2016.595, [-39.0, -43.8, -46.6, -49.3]],
  [2016.61, [-33.0, -39.4, -42.2, -44.7, -46.1, -48.6, -53.4]],
  [2016.63, [-41.1, -43.3, -45.0, -48.4, -50.4]],
  [2016.65, [-36.6, -40.9, -43.0, -45.9, -47.6, -50.8]],
  [2016.665, [-39.5, -42.2, -44.6, -47.3]],
  [2016.68, [-38.0, -41.7, -44.0, -46.3, -48.9, -51.2]],
  [2016.70, [-40.6, -43.9, -46.4, -49.6]],
  [2016.72, [-33.2, -37.4, -40.6, -42.8, -45.2, -47.3, -49.9]],
  [2016.74, [-39.0, -41.9, -45.5, -48.1]],
  [2016.76, [-35.8, -39.5, -42.3, -44.4, -46.9, -48.4, -52.1]],
  [2016.775, [-40.9, -42.9, -44.9, -47.2, -50.0]],
  [2016.79, [-37.9, -41.1, -43.7, -45.7, -47.8, -50.4]],
  [2016.81, [-39.4, -41.6, -45.3, -48.6]],
  [2016.83, [-36.3, -39.9, -42.6, -44.8, -46.6, -49.1, -51.7]],
  [2016.845, [-40.2, -43.5, -46.0, -49.1]],
  [2016.86, [-32.9, -38.4, -41.4, -43.4, -45.6, -48.0, -50.9]],
  [2016.88, [-38.9, -42.4, -44.7, -47.4]],
  [2016.90, [-35.1, -40.0, -42.0, -44.3, -46.8, -49.4]],
  [2016.92, [-40.5, -43.1, -45.8, -48.3, -51.0]],
  [2016.94, [-37.0, -40.8, -43.5, -45.4, -47.5, -50.1, -53.4]],
  [2016.955, [-39.3, -42.0, -44.1, -46.9]],
  [2016.97, [-34.7, -39.2, -41.6, -44.6, -46.5, -48.7, -51.3]],
  [2016.99, [-41.2, -43.8, -46.1, -48.8]],
  [2017.01, [-36.4, -40.3, -42.4, -45.0, -47.2, -49.7]],
  [2017.03, [-38.8, -42.6, -45.2, -47.7, -49.8]],
  [2017.05, [-34.0, -38.1, -41.3, -43.8, -46.2, -48.1, -50.7]],
  [2017.065, [-40.1, -43.0, -44.8, -48.4]],
  [2017.08, [-36.9, -40.5, -42.7, -45.6, -47.7, -51.0]],
  [2017.10, [-39.6, -41.7, -46.2, -49.2]],
  [2017.12, [-33.8, -39.0, -41.8, -44.1, -46.0, -49.3, -52.0]],
  [2017.135, [-40.7, -43.4, -45.6, -47.3]],
  [2017.15, [-35.6, -39.7, -43.2, -45.8, -48.5, -50.2]],
  [2017.17, [-38.4, -42.3, -44.9, -48.0, -50.6]],
  [2017.19, [-37.6, -41.0, -43.6, -46.1, -47.9, -49.8, -52.9]],
  [2017.21, [-39.9, -42.0, -45.9, -47.6]],
  [2017.23, [-34.5, -38.8, -42.1, -44.4, -46.6, -48.9, -52.6]],
  [2017.245, [-41.3, -43.7, -46.0, -48.9]],
  [2017.26, [-36.0, -40.1, -42.9, -45.3, -47.3, -50.5]],
  [2017.28, [-38.7, -41.4, -44.3, -47.1]],
  [2017.30, [-33.4, -37.7, -41.5, -43.9, -46.4, -48.2, -51.4]],
  [2017.315, [-40.4, -43.2, -45.6, -48.2, -51.3]],
  [2017.33, [-35.9, -39.3, -42.2, -44.9, -47.0, -49.5]],
  [2017.35, [-39.1, -42.1, -44.6, -46.9]],
  [2017.37, [-32.3, -37.1, -40.6, -43.4, -45.7, -48.0, -50.9]],
  [2017.385, [-40.9, -43.7, -45.9, -48.5]],
  [2017.40, [-34.8, -38.5, -41.9, -44.2, -46.8, -49.0]],
  [2017.42, [-38.5, -41.5, -44.3, -47.3]],
  [2017.44, [-31.7, -36.2, -40.2, -43.0, -45.1, -47.6, -50.3]],
  [2017.455, [-39.8, -42.7, -45.2, -49.0, -51.4]],
  [2017.47, [-33.9, -38.0, -41.1, -44.6, -46.3, -48.8, -54.1]],
  [2017.49, [-40.6, -43.1, -46.1, -48.1]],
  [2017.51, [-35.3, -39.6, -42.5, -45.0, -47.4, -49.9]],
  [2017.53, [-38.3, -41.9, -44.7, -47.0]],
  [2017.55, [-32.0, -36.7, -40.8, -43.3, -45.9, -48.3, -51.1]],
  [2017.565, [-39.7, -42.4, -45.4, -48.6]],
  [2017.58, [-34.4, -38.2, -41.7, -44.0, -46.5, -50.0]],
  [2017.60, [-37.6, -40.6, -43.5, -46.7, -49.5]],
  [2017.62, [-31.2, -36.3, -39.9, -42.8, -45.4, -47.8, -52.4]],
  [2017.635, [-35.1, -39.3, -42.3, -45.0]],
  [2017.65, [-30.1, -33.5, -37.8, -41.2, -43.7, -46.1, -49.1]],
  [2017.67, [-36.9, -40.9, -43.3, -46.6, -48.7]],
  [2017.69, [-35.0, -38.7, -42.0, -44.5, -46.9, -49.6]],
  [2017.705, [-38.6, -41.1, -44.0, -47.1]],
  [2017.72, [-31.9, -36.8, -40.3, -43.5, -45.2, -47.9, -51.8]],
  [2017.74, [-37.2, -40.0, -42.9, -45.8, -49.9]],
  [2017.76, [-33.6, -37.9, -41.6, -44.3, -46.7, -48.6]],
  [2017.78, [-38.8, -41.8, -44.8, -47.7]],
  [2017.80, [-32.4, -35.7, -39.4, -42.7, -45.5, -48.1, -50.6]],
  [2017.815, [-36.6, -40.5, -43.6, -45.9]],
  [2017.83, [-34.3, -38.4, -41.8, -44.1, -46.4, -49.3, -53.0]],
  [2017.85, [-38.0, -42.2, -44.5, -47.9, -50.3]],
  [2017.87, [-31.4, -36.5, -40.1, -43.2, -45.8, -47.5]],
  [2017.885, [-39.4, -41.6, -43.9, -46.6]],
  [2017.90, [-33.1, -37.3, -40.9, -43.6, -46.0, -48.4, -51.6]],
  [2017.92, [-37.1, -40.8, -43.2, -45.3, -49.2]],
  [2017.94, [-35.5, -39.0, -42.3, -44.7, -47.1, -50.1]],
  [2017.955, [-38.9, -41.9, -44.6, -47.4]],
  [2017.97, [-32.8, -36.9, -40.4, -43.0, -45.6, -48.0, -52.2]],
  [2017.99, [-36.5, -40.3, -42.8, -46.0]],
  [2018.01, [-34.6, -38.3, -41.4, -44.2, -46.8, -49.7]],
  [2018.03, [-37.8, -41.2, -43.9, -47.1, -49.4]],
  [2018.05, [-31.0, -35.2, -39.7, -42.6, -45.1, -47.4, -50.8]],
  [2018.065, [-35.9, -39.4, -42.4, -45.5]],
  [2018.08, [-30.0, -33.3, -37.6, -41.0, -43.8, -46.3, -48.9]],
  [2018.10, [-36.3, -40.6, -43.0, -45.9, -48.6]],
  [2018.12, [-30.6, -34.7, -38.9, -42.1, -44.9, -47.7, -51.2]],
  [2018.135, [-38.2, -41.5, -44.5, -47.4]],
  [2018.15, [-32.2, -36.4, -40.5, -43.4, -46.2, -48.5]],
  [2018.17, [-39.0, -42.8, -45.4, -48.0]],
  [2018.19, [-33.7, -37.5, -41.3, -44.0, -46.6, -49.2, -52.7]],
  [2018.205, [-37.6, -40.9, -43.7, -46.9, -50.2]],
  [2018.22, [-35.2, -39.2, -42.4, -45.2, -47.6, -50.4]],
  [2018.24, [-38.7, -42.0, -44.8, -47.2]],
  [2018.26, [-32.5, -36.6, -40.0, -43.1, -45.7, -48.3, -51.5]],
  [2018.275, [-40.2, -43.3, -46.3, -49.0]],
  [2018.29, [-34.1, -38.1, -41.7, -44.6, -47.0, -49.8]],
  [2018.31, [-38.4, -41.8, -44.2, -47.5]],
  [2018.33, [-36.0, -39.8, -42.9, -45.4, -47.9, -50.7, -53.3]],
  [2018.35, [-39.5, -42.5, -45.1, -48.4, -51.0]],
  [2018.37, [-33.3, -37.2, -40.7, -43.7, -46.1, -48.8]],
  [2018.385, [-40.8, -43.9, -46.5, -49.3]],
  [2018.40, [-35.7, -39.3, -42.2, -44.8, -47.3, -50.0, -52.5]],
  [2018.42, [-39.2, -41.3, -44.6, -47.8]],
  [2018.44, [-34.0, -38.6, -41.5, -44.3, -46.7, -49.4]],
  [2018.455, [-40.4, -42.9, -45.9, -48.2]],
  [2018.47, [-36.5, -40.0, -43.0, -45.5, -48.1, -51.3]],
  [2018.49, [-38.9, -42.3, -44.4, -47.7, -50.9]],
  [2018.51, [-33.5, -37.7, -41.1, -43.9, -46.4, -48.7, -52.3]],
  [2018.525, [-40.6, -43.6, -46.8, -49.2]],
  [2018.54, [-35.4, -39.6, -42.6, -45.1, -47.5, -49.9, -54.2]],
  [2018.56, [-39.3, -41.7, -44.1, -46.5]],
  [2018.58, [-32.6, -36.8, -40.6, -43.5, -46.0, -48.6, -51.9]],
  [2018.595, [-40.9, -43.8, -45.6, -48.9]],
  [2018.61, [-34.9, -38.8, -42.0, -44.7, -47.2, -50.2]],
  [2018.63, [-38.6, -42.4, -45.0, -47.9, -50.5]],
  [2018.65, [-33.0, -37.0, -40.8, -43.3, -45.9, -48.4, -52.8]],
  [2018.67, [-39.9, -41.9, -44.5, -47.0]],
  [2018.69, [-35.8, -39.5, -42.7, -45.3, -47.8, -50.6, -55.3]],
  [2018.705, [-37.9, -40.7, -43.1, -46.4]],
  [2018.72, [-31.1, -34.4, -38.5, -41.9, -44.6, -47.1, -49.5]],
  [2018.74, [-35.4, -39.0, -42.6, -45.3, -48.3]],
  [2018.76, [-31.2, -36.1, -40.2, -43.2, -46.3, -48.9, -51.4]],
  [2018.775, [-37.4, -40.9, -44.0, -46.8]],
  [2018.79, [-33.8, -37.8, -41.6, -44.4, -47.0, -50.1]],
  [2018.81, [-39.6, -42.7, -45.2, -48.7]],
  [2018.83, [-35.6, -39.1, -42.8, -45.7, -48.0, -51.0, -53.6]],
  [2018.845, [-38.1, -41.2, -43.6, -46.6, -49.8]],
  [2018.86, [-34.2, -38.2, -41.4, -44.9, -47.4, -49.7]],
  [2018.88, [-40.0, -42.9, -45.8, -48.1]],
  [2018.90, [-36.7, -40.4, -43.4, -46.0, -48.5, -51.8]],
  [2018.915, [-39.0, -41.6, -44.6, -47.6]],
  [2018.93, [-33.4, -37.4, -41.2, -44.0, -46.6, -49.0, -52.0]],
  [2018.95, [-40.7, -43.8, -46.9, -49.6]],
  [2018.97, [-35.1, -39.0, -42.5, -45.6, -48.2, -50.9]],
  [2018.99, [-39.4, -42.3, -45.3, -48.4, -51.2]],
  [2019.01, [-37.3, -40.6, -43.6, -46.2, -48.8, -51.6, -54.0]],
  [2019.025, [-40.3, -43.5, -46.2, -48.9]],
  [2019.04, [-34.7, -38.7, -42.1, -45.0, -47.6, -50.3]],
  [2019.06, [-38.8, -42.0, -44.9, -47.4]],
  [2019.08, [-36.2, -40.1, -43.1, -45.8, -48.3, -51.1, -53.5]],
  [2019.095, [-40.5, -43.9, -46.6, -49.7]],
  [2019.11, [-33.6, -37.9, -41.8, -44.5, -47.2, -49.9]],
  [2019.13, [-39.1, -42.6, -45.5, -48.2]],
  [2019.15, [-35.9, -39.7, -42.9, -45.9, -48.6, -52.2]],
  [2019.17, [-40.9, -44.3, -47.0, -50.1, -52.6]],
  [2019.19, [-34.4, -38.5, -42.3, -45.2, -47.7, -50.4, -53.1]],
  [2019.205, [-39.7, -42.9, -45.8, -48.6]],
  [2019.22, [-37.0, -40.7, -43.8, -46.4, -49.1, -51.7]],
  [2019.24, [-41.1, -44.6, -47.5, -49.9]],
  [2019.26, [-35.3, -39.4, -42.7, -45.5, -48.0, -50.8, -54.4]],
  [2019.275, [-39.9, -43.2, -46.1, -48.8]],
  [2019.29, [-33.9, -38.0, -41.9, -44.8, -47.5, -49.6]],
  [2019.31, [-41.4, -44.9, -47.8, -50.7]],
  [2019.33, [-36.4, -40.3, -43.5, -46.3, -48.7, -51.5]],
  [2019.35, [-40.1, -43.7, -46.5, -49.4, -52.9]],
  [2019.36, [-34.8, -38.9, -42.4, -45.4, -47.9, -50.6, -53.8]],
  [2019.385, [-41.6, -44.7, -47.2, -50.3]],
  [2019.40, [-37.5, -41.0, -44.1, -46.7, -49.3, -52.0]],
  [2019.42, [-40.4, -43.4, -46.0, -48.9]],
  [2019.44, [-35.0, -39.2, -42.8, -45.7, -48.4, -51.2]],
  [2019.455, [-41.9, -45.1, -47.7, -51.0]],
  [2019.47, [-33.2, -37.6, -41.7, -44.6, -47.3, -50.0, -52.6]],
  [2019.49, [-40.6, -44.0, -46.9, -49.8]],
  [2019.51, [-35.7, -39.8, -43.3, -46.1, -48.9, -51.4, -54.5]],
  [2019.53, [-39.0, -42.5, -45.6, -48.5, -51.8]],
  [2019.55, [-32.7, -36.9, -41.1, -44.3, -47.0, -49.5, -53.7]],
  [2019.565, [-40.9, -44.2, -47.3, -50.4]],
  [2019.58, [-32.1, -35.4, -39.5, -43.0, -45.9, -48.6, -51.3]],
  [2019.60, [-39.6, -43.3, -46.3, -49.1]],
  [2019.62, [-34.3, -38.4, -42.0, -45.3, -48.1, -50.9, -57.1]],
  [2019.635, [-41.3, -45.0, -47.9, -51.6, -53.9]],
  [2019.65, [-36.8, -40.5, -43.9, -46.5, -49.4, -52.4, -55.7]],
  [2019.67, [-40.0, -43.8, -46.8, -49.9]],
  [2019.69, [-35.2, -39.3, -42.6, -45.8, -48.5, -51.0]],
  [2019.71, [-41.8, -45.4, -48.2, -50.8]],
  [2019.72, [-37.7, -41.2, -44.4, -47.0, -49.8, -52.8]],
  [2019.745, [-40.3, -44.3, -47.1, -50.2]],
  [2019.76, [-33.7, -38.1, -42.2, -45.1, -47.8, -50.5, -53.2]],
  [2019.78, [-42.1, -45.6, -48.6, -51.3]],
  [2019.79, [-36.1, -40.0, -43.2, -46.2, -48.9, -51.9]],
  [2019.815, [-40.7, -44.1, -47.6, -49.6, -52.8]],
  [2019.83, [-34.6, -38.8, -42.9, -45.6, -48.2, -51.1, -54.2]],
  [2019.85, [-42.4, -45.9, -48.0, -51.0]],
  [2019.86, [-36.9, -40.8, -44.0, -46.8, -49.6, -52.5]],
  [2019.885, [-41.0, -44.6, -47.4, -50.0]],
  [2019.90, [-35.6, -39.5, -43.1, -46.0, -48.7, -51.3]],
  [2019.915, [-42.6, -46.2, -49.0, -51.9]],
  [2019.93, [-34.1, -38.3, -42.4, -45.4, -48.3, -50.7, -53.9]],
  [2019.95, [-41.3, -45.0, -48.1, -50.6, -53.4]],
  [2019.97, [-37.2, -40.9, -44.2, -47.1, -49.9, -52.3]],
  [2019.985, [-42.9, -45.7, -48.5, -51.4]],
  [2020.00, [-35.9, -39.9, -43.4, -46.4, -49.2, -51.8, -55.0]],
  [2020.02, [-41.6, -44.9, -47.8, -50.3]],
  [2020.04, [-34.5, -38.6, -42.7, -45.9, -48.8, -51.5]],
  [2020.055, [-43.1, -46.0, -49.0, -52.0]],
  [2020.07, [-36.6, -40.4, -44.3, -47.3, -50.1, -52.6, -54.7]],
  [2020.085, [-41.9, -45.2, -48.2, -50.9]],
  [2020.10, [-35.4, -39.6, -43.6, -46.6, -49.5, -51.6]],
  [2020.115, [-42.8, -46.1, -49.4, -51.9]],
  [2020.12, [-37.4, -41.4, -44.7, -47.6, -50.5, -53.0]]
];

const displacement2020_2021 = [
  [2020.31, [-36.8, -40.1, -43.0, -45.9, -48.5, -51.2]],
  [2020.325, [-39.6, -42.4, -45.1, -48.0, -50.6]],
  [2020.34, [-34.9, -38.7, -41.8, -44.6, -47.3, -50.0, -53.1]],
  [2020.36, [-40.7, -44.3, -47.6, -50.1]],
  [2020.38, [-37.5, -40.9, -43.7, -46.4, -49.0, -51.9]],
  [2020.395, [-39.9, -42.1, -45.6, -48.4]],
  [2020.41, [-35.8, -39.4, -42.5, -45.3, -47.9, -50.6]],
  [2020.43, [-41.4, -43.6, -46.4, -49.1, -51.4]],
  [2020.45, [-38.2, -41.5, -44.2, -46.9, -49.6, -52.3, -54.8]],
  [2020.465, [-40.2, -42.8, -45.0, -47.8]],
  [2020.48, [-36.3, -39.9, -43.1, -45.7, -48.3, -51.0]],
  [2020.50, [-41.7, -44.6, -47.1, -49.9]],
  [2020.52, [-37.9, -41.1, -44.0, -46.6, -49.3, -52.6]],
  [2020.535, [-39.8, -43.3, -46.0, -48.6, -51.8]],
  [2020.55, [-35.4, -39.0, -42.4, -45.1, -47.7, -50.4, -53.4]],
  [2020.565, [-41.0, -43.9, -45.9, -49.3]],
  [2020.58, [-37.1, -40.6, -43.4, -46.2, -48.8, -51.5]],
  [2020.595, [-40.4, -42.6, -46.9, -50.2]],
  [2020.61, [-32.5, -36.0, -39.7, -42.9, -45.5, -48.1, -50.9]],
  [2020.62, [-38.6, -44.8, -47.5, -55.9]],
  [2020.64, [-41.8, -44.1, -46.7, -49.6]],
  [2020.66, [-36.7, -40.3, -43.6, -46.3, -49.1, -52.0]],
  [2020.675, [-39.5, -42.9, -45.4, -48.1, -50.9]],
  [2020.69, [-38.4, -41.7, -44.5, -47.2, -49.8, -53.0]],
  [2020.71, [-41.2, -44.8, -47.4, -50.5]],
  [2020.73, [-35.9, -39.6, -42.8, -45.6, -48.4, -51.3]],
  [2020.745, [-40.1, -43.1, -46.1, -48.8]],
  [2020.76, [-37.7, -41.3, -44.3, -47.0, -49.7, -52.4]],
  [2020.78, [-41.9, -45.0, -47.9, -51.2]],
  [2020.80, [-36.2, -40.0, -43.3, -46.0, -48.7, -51.7, -54.2]],
  [2020.815, [-40.6, -43.5, -46.2, -49.5, -52.5]],
  [2020.83, [-38.8, -42.0, -44.9, -47.6, -50.3]],
  [2020.85, [-42.3, -45.3, -48.2, -50.8]],
  [2020.87, [-36.5, -40.5, -43.8, -46.5, -49.2, -52.1]],
  [2020.885, [-40.9, -44.0, -46.9, -49.2]],
  [2020.90, [-38.0, -41.6, -44.6, -47.4, -50.0, -53.3]],
  [2020.92, [-42.0, -45.7, -48.5, -51.6]],
  [2020.93, [-32.8, -37.3, -40.8, -43.9, -46.7, -49.4, -51.8]],
  [2020.95, [-39.1, -42.4, -45.2, -48.0, -50.7, -55.1]],
  [2020.97, [-41.1, -44.3, -47.3, -50.1]],
  [2020.99, [-36.9, -40.7, -44.1, -46.8, -49.5, -52.5]],
  [2021.005, [-42.5, -45.4, -48.9, -51.3, -53.1]],
  [2021.02, [-38.5, -42.2, -45.0, -47.8, -50.6, -53.6]],
  [2021.04, [-40.9, -43.7, -46.4, -49.0]],
  [2021.06, [-37.2, -41.0, -44.4, -47.1, -49.9, -52.7]],
  [2021.075, [-42.8, -45.9, -49.3, -52.1]],
  [2021.09, [-32.7, -36.6, -40.2, -43.5, -46.2, -48.9, -51.4]],
  [2021.11, [-41.5, -44.5, -47.0, -50.4]],
  [2021.13, [-38.9, -42.6, -45.5, -48.3, -51.1, -54.0]],
  [2021.145, [-43.0, -46.2, -48.7, -51.8]],
  [2021.16, [-37.4, -41.4, -44.8, -47.7, -50.4, -53.2]],
  [2021.18, [-41.7, -44.9, -47.9, -50.7, -53.7]],
  [2021.20, [-39.3, -42.9, -45.8, -48.6, -51.5]],
  [2021.215, [-43.3, -46.5, -49.5, -52.3]],
  [2021.23, [-36.4, -40.4, -43.9, -46.9, -49.7, -52.8]],
  [2021.25, [-41.9, -45.1, -48.0, -50.9]],
  [2021.27, [-38.3, -42.1, -45.3, -48.2, -51.0, -54.3]],
  [2021.285, [-43.6, -46.8, -49.8, -52.6]],
  [2021.30, [-37.0, -41.2, -44.6, -47.5, -50.2, -52.9]],
  [2021.32, [-42.2, -45.5, -48.6, -51.5]],
  [2021.34, [-34.1, -35.0, -39.0, -43.0, -46.1, -49.0, -51.9]],
  [2021.355, [-40.6, -43.8, -47.1, -50.0, -53.0]],
  [2021.37, [-38.7, -42.7, -45.9, -48.8, -51.6, -54.6]],
  [2021.39, [-42.4, -45.7, -48.7, -51.8]],
  [2021.41, [-37.8, -41.8, -45.1, -48.1, -50.8, -53.5]],
  [2021.425, [-41.0, -44.4, -47.8, -50.6]],
  [2021.44, [-39.5, -43.2, -46.3, -49.3, -52.2]],
  [2021.455, [-42.7, -46.0, -49.1, -52.4]],
  [2021.47, [-38.1, -42.3, -45.6, -48.5, -51.3, -55.9, -57.5]],
  [2021.485, [-41.3, -44.7, -48.1, -51.1, -54.0]],
  [2021.50, [-39.8, -43.5, -46.6, -49.6, -52.5, -54.9]],
  [2021.51, [-42.9, -46.1, -49.4, -52.0]],
  [2021.52, [-38.4, -44.0, -47.3, -50.5, -53.8]]
];

const displacement2021_2023 = [
  [2021.73, [-37.8, -41.2, -44.3, -47.0, -49.8, -52.5]],
  [2021.745, [-40.7, -43.9, -46.7, -49.4]],
  [2021.76, [-32.3, -32.9, -35.2, -39.9, -43.1, -45.8, -48.6, -51.4]],
  [2021.78, [-41.6, -44.6, -47.3, -50.0, -52.9]],
  [2021.80, [-38.6, -42.0, -45.0, -47.7, -50.5, -53.3]],
  [2021.815, [-40.0, -42.6, -45.5, -48.4]],
  [2021.83, [-37.1, -40.7, -43.8, -46.6, -49.3, -52.0]],
  [2021.85, [-41.8, -44.2, -47.0, -49.9]],
  [2021.87, [-39.2, -42.6, -45.5, -48.3, -51.1, -54.0]],
  [2021.885, [-40.3, -43.5, -46.2, -49.0, -51.7]],
  [2021.90, [-37.5, -41.5, -44.6, -47.4, -50.2, -52.8]],
  [2021.92, [-42.1, -45.1, -47.9, -50.6]],
  [2021.94, [-39.7, -43.0, -46.0, -48.9, -51.7]],
  [2021.955, [-40.8, -44.0, -46.9, -49.6]],
  [2021.97, [-38.0, -41.9, -45.2, -48.0, -50.8, -53.6]],
  [2021.99, [-42.4, -45.6, -48.5, -51.2, -53.9]],
  [2022.01, [-40.2, -43.6, -46.5, -49.4, -52.3, -55.0]],
  [2022.025, [-41.2, -44.6, -47.6, -50.6]],
  [2022.04, [-37.0, -41.0, -44.4, -47.3, -50.1, -53.0]],
  [2022.06, [-42.9, -46.1, -49.2, -52.1]],
  [2022.08, [-36.2, -39.3, -42.8, -45.9, -48.7, -51.5, -54.4]],
  [2022.095, [-41.5, -44.9, -48.0, -50.9, -53.3]],
  [2022.11, [-38.7, -42.3, -45.4, -48.4, -51.2, -53.9]],
  [2022.13, [-43.2, -46.6, -49.6, -52.5]],
  [2022.15, [-40.5, -44.0, -47.1, -50.0, -52.9, -55.3]],
  [2022.165, [-42.0, -45.4, -48.6, -51.4, -54.3]],
  [2022.18, [-39.0, -42.9, -46.2, -49.1, -51.9, -54.7, -57.7]],
  [2022.20, [-43.6, -46.9, -50.0, -52.9]],
  [2022.22, [-40.9, -44.4, -47.5, -50.4, -53.2, -55.8]],
  [2022.235, [-42.3, -45.8, -49.0, -51.9, -54.8]],
  [2022.25, [-38.3, -42.1, -45.6, -48.6, -51.4, -54.2]],
  [2022.27, [-43.8, -47.2, -50.3, -53.3]],
  [2022.29, [-40.1, -43.8, -46.9, -49.8, -52.6, -56.4]],
  [2022.305, [-42.6, -46.1, -49.4, -52.2]],
  [2022.32, [-37.9, -41.7, -45.3, -48.2, -51.0, -53.7]],
  [2022.34, [-41.0, -44.4, -47.8, -50.9, -53.8]],
  [2022.36, [-39.6, -43.4, -46.7, -49.6, -52.4, -55.0]],
  [2022.375, [-42.8, -46.3, -49.5, -52.6]],
  [2022.39, [-38.2, -42.0, -45.7, -48.8, -51.6, -54.5]],
  [2022.41, [-41.4, -44.9, -48.3, -51.3]],
  [2022.43, [-36.9, -40.6, -44.1, -47.2, -50.3, -53.1]],
  [2022.445, [-43.0, -46.5, -49.8, -52.8, -54.1]],
  [2022.46, [-38.8, -42.5, -45.9, -49.0, -51.8, -55.7]],
  [2022.48, [-41.7, -45.2, -48.5, -51.6]],
  [2022.50, [-37.4, -41.3, -44.7, -47.8, -50.7, -53.5]],
  [2022.515, [-43.3, -46.8, -50.0, -52.9]],
  [2022.53, [-39.4, -43.1, -46.4, -49.3, -52.1, -54.8]],
  [2022.545, [-41.9, -45.5, -48.8, -51.9]],
  [2022.56, [-36.6, -40.3, -43.9, -47.0, -49.9, -52.7, -57.9]],
  [2022.58, [-40.4, -43.6, -46.9, -50.1, -53.6]],
  [2022.60, [-38.1, -41.8, -45.1, -48.1, -51.0, -56.8]],
  [2022.615, [-41.9, -45.3, -48.6, -51.7]],
  [2022.63, [-33.6, -37.2, -40.9, -44.2, -47.4, -50.4, -53.4]],
  [2022.65, [-40.6, -44.0, -47.3, -50.4]],
  [2022.67, [-38.9, -42.7, -45.8, -48.7, -51.5]],
  [2022.685, [-42.1, -45.6, -48.9, -52.0]],
  [2022.70, [-37.3, -41.1, -44.5, -47.6, -50.6, -53.2]],
  [2022.72, [-40.8, -44.3, -47.7, -50.8, -53.0]],
  [2022.74, [-39.0, -42.4, -45.6, -48.5, -51.2, -54.1]],
  [2022.755, [-42.2, -45.8, -49.1, -52.2]],
  [2022.77, [-36.4, -40.1, -43.6, -46.8, -49.7, -52.4]],
  [2022.79, [-40.9, -44.5, -47.6, -50.5]],
  [2022.81, [-38.4, -42.2, -45.3, -48.3, -51.3]],
  [2022.825, [-42.4, -46.0, -49.3, -51.8]],
  [2022.84, [-37.6, -41.4, -44.8, -47.9, -50.9, -53.8]],
  [2022.86, [-41.1, -44.7, -47.9, -50.9, -52.8]],
  [2022.88, [-34.7, -38.5, -42.0, -45.5, -48.4, -51.1]],
  [2022.895, [-39.8, -43.2, -46.8, -49.8]],
  [2022.91, [-37.0, -40.8, -44.0, -47.1, -50.0, -52.9]],
  [2022.93, [-41.3, -44.9, -48.3, -51.1]],
  [2022.95, [-36.0, -39.5, -43.3, -46.5, -49.5, -52.2, -54.9]],
  [2022.965, [-40.1, -43.7, -47.2, -50.2]],
  [2022.98, [-37.7, -41.6, -45.0, -48.2, -51.8]],
  [2022.99, [-41.4, -45.2, -47.8, -50.8]],
  [2023.00, [-39.8, -43.5, -49.1, -50.4, -51.8, -56.6]]
];

// ---- Significant trend segments: points as [decimal year, mm] ----
const trendSegments = [
  [[2007.753, -2.77], [2009.315, -11.25]],
  [[2010.31, -16.7], [2010.81, -19.4]],
  [[2010.946, -20.1], [2014.74, -40.75], [2014.99, -40.95]],
  [[2016.34, -41.8], [2020.12, -44.26]],
  [[2020.31, -44.37], [2021.52, -45.25]],
  [[2021.73, -45.29], [2023.00, -46.2]]
];
const trendIsolated = [[2009.90, -14.4]];

// ---- Significant nodes ----
const nodes = [[2007.753, -2.77], [2014.74, -40.75], [2023.00, -46.2]];

// ---- Build the chart ----
const FONT = 'DejaVu Sans';
const RED = '#ff0000';
const GREEN = '#22e622';
const BLUE = '#0a0af5';
const TEXT = '#222222';

function expand(groups) {
  const out = [];
  groups.forEach(([x, ys]) => ys.forEach(y => out.push([x, y])));
  return out;
}
const displacementPoints = [].concat(
  expand(displacement2007_2009),
  expand(displacement2009_2010),
  expand(displacement2010_2014),
  expand(displacement2016_2020),
  expand(displacement2020_2021),
  expand(displacement2021_2023)
);

function svgIcon(inner) {
  const svg = '<svg xmlns="http://www.w3.org/2000/svg" width="20" height="10" viewBox="0 0 20 10">' + inner + '</svg>';
  return 'image://data:image/svg+xml;charset=utf-8,' + encodeURIComponent(svg);
}
const dotIcon = c => svgIcon('<circle cx="6" cy="5" r="2.4" fill="' + c + '"/>');
const diamondIcon = c => svgIcon('<polygon points="6,0 11,5 6,10 1,5" fill="' + c + '"/>');

const chart = echarts.init(document.getElementById('chart'), null, { renderer: 'canvas' });

const series = [{
  name: seriesNames[0],
  type: 'scatter',
  data: displacementPoints,
  symbol: 'circle',
  symbolSize: 4.8,
  itemStyle: { color: RED },
  z: 2,
  silent: true
}];
trendSegments.forEach(seg => series.push({
  name: seriesNames[1],
  type: 'line',
  data: seg,
  showSymbol: false,
  symbol: 'none',
  lineStyle: { color: GREEN, width: 4.5, cap: 'round', join: 'round' },
  itemStyle: { color: GREEN },
  z: 3,
  silent: true
}));
series.push({
  name: seriesNames[1],
  type: 'scatter',
  data: trendIsolated,
  symbol: 'circle',
  symbolSize: 5,
  itemStyle: { color: GREEN },
  z: 3,
  silent: true
});
series.push({
  name: seriesNames[2],
  type: 'scatter',
  data: nodes,
  symbol: 'diamond',
  symbolSize: [11, 12],
  itemStyle: { color: BLUE },
  z: 4,
  silent: true
});

const option = {
  animation: false,
  backgroundColor: '#ffffff',
  title: {
    text: chartTitle,
    left: 652,
    textAlign: 'center',
    top: 19,
    textStyle: { fontFamily: FONT, fontSize: 13, fontWeight: 'bold', color: '#111' }
  },
  legend: {
    orient: 'vertical',
    right: 6,
    top: 45,
    align: 'left',
    padding: [3, 6, 4, 11],
    itemGap: 5,
    itemWidth: 20,
    itemHeight: 10,
    backgroundColor: 'rgba(255,255,255,0.85)',
    borderColor: '#cfcfcf',
    borderWidth: 1,
    borderRadius: 3,
    textStyle: { fontFamily: FONT, fontSize: 10.7, color: TEXT },
    data: [
      { name: seriesNames[0], icon: dotIcon(RED) },
      { name: seriesNames[1], icon: dotIcon(GREEN) },
      { name: seriesNames[2], icon: diamondIcon(BLUE) }
    ]
  },
  grid: { left: 64, right: 5, top: 38, bottom: 39, containLabel: false },
  xAxis: [{
    type: 'value',
    min: xRange[0],
    max: xRange[1],
    position: 'bottom',
    name: xAxisName,
    nameLocation: 'middle',
    nameGap: 27,
    nameTextStyle: { fontFamily: FONT, fontSize: 11, color: TEXT },
    axisLine: { show: true, onZero: false, lineStyle: { color: '#222', width: 1 } },
    axisTick: { show: true, customValues: yearTicks, length: 4, lineStyle: { color: '#222', width: 1 } },
    axisLabel: {
      customValues: yearTicks,
      formatter: v => Math.round(v) + '-01',
      fontFamily: FONT, fontSize: 11, color: TEXT, margin: 8
    },
    splitLine: { show: true, lineStyle: { color: '#b9b9b9', width: 1 } }
  }, {
    type: 'value',
    min: xRange[0],
    max: xRange[1],
    position: 'top',
    axisLine: { show: true, onZero: false, lineStyle: { color: '#222', width: 1 } },
    axisTick: { show: false, customValues: midYearTicks },
    axisLabel: { show: false, customValues: midYearTicks },
    splitLine: { show: true, lineStyle: { color: '#bdbdbd', width: 1, type: [1.5, 2.5] } }
  }],
  yAxis: [{
    type: 'value',
    min: yRange[0],
    max: yRange[1],
    position: 'left',
    name: yAxisName,
    nameLocation: 'middle',
    nameRotate: 90,
    nameGap: 36,
    nameTextStyle: { fontFamily: FONT, fontSize: 11, color: TEXT },
    axisLine: { show: true, onZero: false, lineStyle: { color: '#222', width: 1 } },
    axisTick: { show: true, customValues: yTicks, length: 4, lineStyle: { color: '#222', width: 1 } },
    axisLabel: {
      customValues: yTicks,
      formatter: v => (v < 0 ? '\u2212' + Math.abs(v) : String(v)),
      fontFamily: FONT, fontSize: 11, color: TEXT, margin: 6
    },
    splitLine: { show: true, lineStyle: { color: '#b9b9b9', width: 1 } }
  }, {
    type: 'value',
    min: yRange[0],
    max: yRange[1],
    position: 'right',
    axisLine: { show: true, onZero: false, lineStyle: { color: '#222', width: 1 } },
    axisTick: { show: false },
    axisLabel: { show: false },
    splitLine: { show: false }
  }],
  graphic: [{
    type: 'polyline',
    silent: true,
    z: 100,
    shape: { points: [[5.5, 707], [5.5, 10.5], [1245, 10.5]] },
    style: { stroke: '#5b8bd6', lineWidth: 1.5, fill: null }
  }],
  series: series
};

chart.setOption(option);
</script>
</body>
</html>
